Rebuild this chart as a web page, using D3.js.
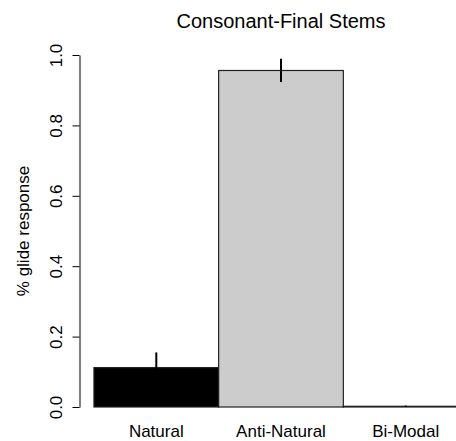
<!DOCTYPE html>
<html>
<head>
<meta charset="utf-8">
<script src="https://cdn.jsdelivr.net/npm/d3@7"></script>
<style>
  body { margin: 0; background: #fff; }
  svg { display: block; font-family: "Liberation Sans", Arial, Helvetica, sans-serif; }
</style>
</head>
<body>
<script>
// chart data
const conditions = ["Natural", "Anti-Natural", "Bi-Modal"];
const glideMeans = [0.112, 0.956, 0.002];
const glideErrors = [0.043, 0.033, 0.002];
const barFills = ["#000000", "#cccccc", "#ffffff"];
const yTicks = [0, 0.2, 0.4, 0.6, 0.8, 1.0];

let width = 456,
	height = 441;

// plot region, R-like
let plot = {left: 79, right: 483, top: 55, bottom: 407};

let svg = d3.select("body").append("svg")
	.attr("width", width)
	.attr("height", height);

// x scale: bars touch, outer padding like R's 4% extension
const xScale = d3.scaleBand()
	.domain(conditions)
	.range([plot.left, plot.right])
	.paddingInner(0)
	.paddingOuter(0.12);

const yScale = d3.scaleLinear()
	.domain([0, 1])
	.range([plot.bottom, plot.top]);

let data = conditions.map(function(c, i) {
	return {cond: c, mean: glideMeans[i], err: glideErrors[i], fill: barFills[i]};
});

// bars
svg.selectAll("rect.bar")
	.data(data)
	.enter()
	.append("rect")
	.attr("class", "bar")
	.attr("x", function(d) { return xScale(d.cond); })
	.attr("width", xScale.bandwidth())
	.attr("y", function(d) { return yScale(d.mean); })
	.attr("height", function(d) { return yScale(0) - yScale(d.mean); })
	.attr("fill", function(d) { return d.fill; })
	.attr("stroke", "#222")
	.attr("stroke-width", 1.2);

// error bars (no caps)
svg.selectAll("line.err")
	.data(data)
	.enter()
	.append("line")
	.attr("class", "err")
	.attr("x1", function(d) { return xScale(d.cond) + xScale.bandwidth() / 2; })
	.attr("x2", function(d) { return xScale(d.cond) + xScale.bandwidth() / 2; })
	.attr("y1", function(d) { return yScale(d.mean - d.err); })
	.attr("y2", function(d) { return yScale(d.mean + d.err); })
	.attr("stroke", "#000")
	.attr("stroke-width", 2);

// y axis
let yAxis = d3.axisLeft(yScale)
	.tickValues(yTicks)
	.tickFormat(d3.format(".1f"))
	.tickSize(7)
	.tickSizeOuter(0);

let yg = svg.append("g")
	.attr("transform", "translate(" + (plot.left + 0.5) + ",0)")
	.call(yAxis);

yg.select(".domain").attr("stroke", "#000").attr("stroke-width", 1);
yg.selectAll(".tick line").attr("stroke", "#000");
yg.selectAll(".tick text")
	.attr("font-size", 17)
	.attr("font-family", "Liberation Sans, Arial, sans-serif")
	.attr("fill", "#000")
	.attr("text-anchor", "middle")
	.attr("x", 0)
	.attr("dy", 0)
	.attr("transform", "translate(-18,0) rotate(-90)");

// x labels
svg.selectAll("text.xlab")
	.data(conditions)
	.enter()
	.append("text")
	.attr("class", "xlab")
	.attr("x", function(d) { return xScale(d) + xScale.bandwidth() / 2; })
	.attr("y", 437)
	.attr("text-anchor", "middle")
	.attr("font-size", 17)
	.text(function(d) { return d; });

// y-axis label
svg.append("text")
	.attr("transform", "translate(29," + ((plot.top + plot.bottom) / 2) + ") rotate(-90)")
	.attr("text-anchor", "middle")
	.attr("font-size", 17)
	.text("% glide response");

// title
svg.append("text")
	.attr("x", (plot.left + plot.right) / 2)
	.attr("y", 28)
	.attr("text-anchor", "middle")
	.attr("font-size", 20)
	.text("Consonant-Final Stems");
</script>
</body>
</html>
